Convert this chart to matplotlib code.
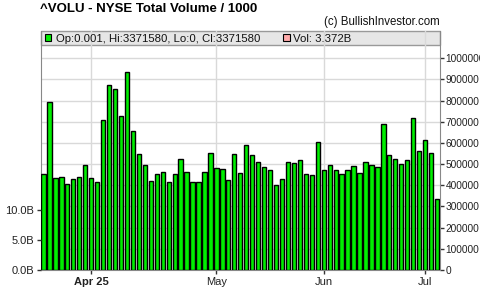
import matplotlib
matplotlib.use('Agg')
import matplotlib.pyplot as plt
from matplotlib.patches import Rectangle
import numpy as np

plt.rcParams['font.family'] = ['Liberation Sans', 'DejaVu Sans']

# daily values (right axis), Mar 20 -> Jul 3
volu = [452000, 792000, 433000, 438000, 405000, 428000, 438000, 494000,
        433000, 414000, 707000, 872000, 854000, 726000, 934000, 657000,
        546000, 494000, 419000, 452000, 461000, 414000, 452000, 523000,
        461000, 414000, 414000, 461000, 551000, 480000, 476000, 424000,
        546000, 457000, 589000, 542000, 509000, 485000, 471000, 400000,
        428000, 509000, 504000, 518000, 452000, 447000, 603000, 471000,
        494000, 471000, 452000, 471000, 490000, 457000, 509000, 494000,
        485000, 688000, 542000, 523000, 499000, 518000, 717000, 561000,
        613000, 551000, 334000]
month_labels = ['Apr 25', 'May', 'Jun', 'Jul']
month_idx = [8, 29, 47, 64]
right_ticks = [0, 100000, 200000, 300000, 400000, 500000, 600000, 700000,
               800000, 900000, 1000000]
vol_ticks = [0, 5e9, 10e9]
vol_labels = ['0.0B', '5.0B', '10.0B']

x = np.arange(len(volu))
W, H = 480, 301
fig = plt.figure(figsize=(W / 100, H / 100), dpi=100)

# plot box in pixels
L, R, T, B = 40.5, 440, 31, 270
ax = fig.add_axes([L / W, 1 - B / H, (R - L) / W, (B - T) / H])
axl = ax.twinx()  # left axis for volume (twinx resets ax to the left, fixed below)

ax.bar(x, volu, width=0.72, color='#00ee00', edgecolor='black', linewidth=1.0, zorder=3)
ax.set_xlim(-0.5, len(volu) - 0.5)
ax.set_ylim(0, (B - T) / 21.17 * 100000)

ax.yaxis.tick_right()
ax.set_yticks(right_ticks)
ax.set_yticklabels([str(v) for v in right_ticks])
ax.set_xticks(month_idx)
ax.set_xticklabels(month_labels)
ax.get_xticklabels()[0].set_fontweight('bold')
ax.tick_params(axis='y', labelsize=7.3, length=3, width=1, color='#333333', labelcolor='#222222', pad=1)
ax.tick_params(axis='x', labelsize=8, length=3, width=1, color='#333333', labelcolor='#222222', pad=2)

ax.grid(True, color='#d9d9d9', linewidth=1, zorder=1)
ax.set_axisbelow(True)
for side in ['left', 'right', 'bottom']:
    ax.spines[side].set_color('#888888')
ax.spines['top'].set_visible(False)

axl.yaxis.tick_left()
axl.set_ylim(0, (B - T) / 30.0 * 5e9)
axl.set_yticks(vol_ticks)
axl.set_yticklabels(vol_labels)
axl.tick_params(axis='y', labelsize=8, length=3, width=1, color='#333333', labelcolor='#222222', pad=1.5)
for s in axl.spines.values():
    s.set_visible(False)

# legend strip along the top
def fx(px):
    return (px - L) / (R - L)

def fy(py):
    return (B - py) / (B - T)

ax.add_patch(Rectangle((0, fy(45)), 1, 1 - fy(45), transform=ax.transAxes,
                       facecolor='#e6e6e6', edgecolor='#999999', linewidth=1,
                       zorder=0.5, clip_on=False))
ax.add_patch(Rectangle((fx(44.5), fy(41)), fx(51) - fx(44.5), fy(34) - fy(41),
                       transform=ax.transAxes, facecolor='#00ee00', edgecolor='black',
                       linewidth=0.8, zorder=5, clip_on=False))
ax.text(fx(56), fy(38.5), 'Op:0.001, Hi:3371580, Lo:0, Cl:3371580', transform=ax.transAxes,
        fontsize=8.2, color='#111111', va='center', ha='left', zorder=5)
ax.add_patch(Rectangle((fx(283), fy(41)), fx(289.5) - fx(283), fy(34) - fy(41),
                       transform=ax.transAxes, facecolor='#ffaaaa', edgecolor='black',
                       linewidth=0.8, zorder=5, clip_on=False))
ax.text(fx(293), fy(38.5), 'Vol: 3.372B', transform=ax.transAxes,
        fontsize=8.2, color='#111111', va='center', ha='left', zorder=5)

fig.text(40 / W, 1 - 9 / H, '^VOLU - NYSE Total Volume / 1000', fontsize=9.5,
         fontweight='bold', ha='left', va='center', color='black')
fig.text(R / W, 1 - 22.5 / H, '(c) BullishInvestor.com', fontsize=8.3,
         ha='right', va='center', color='#111111')

fig.savefig('out.png', dpi=100)
